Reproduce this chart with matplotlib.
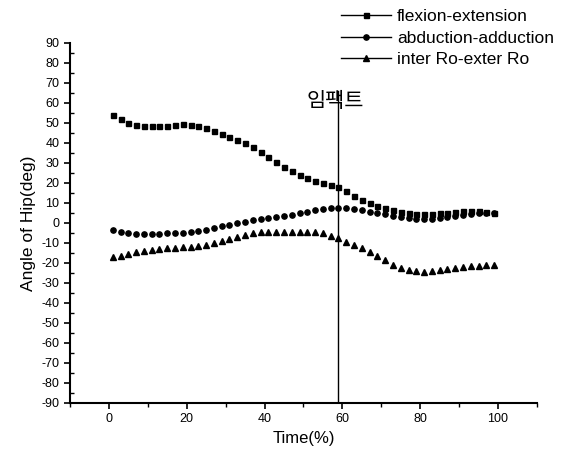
import matplotlib.pyplot as plt
import numpy as np
from matplotlib.lines import Line2D
from matplotlib.ticker import MultipleLocator

plt.rcParams['font.family'] = ['Liberation Sans', 'Noto Sans CJK KR', 'DejaVu Sans']
plt.rcParams['axes.unicode_minus'] = False

# Hip joint angles over the swing cycle (every 2 %)
time_pct = np.arange(1, 100, 2)

flexion_extension = [
    54, 52, 50, 49, 48.5, 48.3, 48.3, 48.5, 49, 49.3,
    49, 48.5, 47.5, 46, 44.5, 43, 41.5, 40, 38, 35.5,
    33, 30.5, 28, 26, 24, 22.5, 21, 20, 19, 18,
    16, 13.5, 11.5, 10, 8.5, 7.5, 6.5, 5.5, 5, 4.5,
    4.5, 4.5, 5, 5, 5.5, 6, 6, 6, 5.5, 5]

abduction_adduction = [
    -3.5, -4.5, -5, -5.5, -5.5, -5.5, -5.5, -5, -5, -5,
    -4.5, -4, -3.5, -2.5, -1.5, -1, 0, 0.5, 1.5, 2,
    2.5, 3, 3.5, 4, 5, 5.5, 6.5, 7, 7.5, 7.5,
    7.5, 7, 6.5, 5.5, 5, 4.5, 3.5, 3, 2.5, 2,
    2, 2, 2.5, 3, 3.5, 4, 4.5, 5, 5, 5]

inter_exter_rot = [
    -17, -16.5, -15.5, -14.5, -14, -13.5, -13, -12.5, -12.5, -12,
    -12, -11.5, -11, -10, -9, -8, -7, -6, -5, -4.5,
    -4.5, -4.5, -4.5, -4.5, -4.5, -4.5, -4.5, -5, -6.5, -7.5,
    -9.5, -11, -12.5, -14.5, -16.5, -18.5, -21, -22.5, -23.5, -24,
    -24.5, -24, -23.5, -23, -22.5, -22, -21.5, -21.5, -21, -21]

impact_time = 59
impact_label = '임팩트'

fig = plt.figure(figsize=(5.64, 4.61), dpi=100)
ax = fig.add_axes([0.124, 0.126, 0.828, 0.781])

ax.plot(time_pct, flexion_extension, ls='none', marker='s', ms=3.6, color='black')
ax.plot(time_pct, abduction_adduction, ls='none', marker='o', ms=3.8, color='black')
ax.plot(time_pct, inter_exter_rot, ls='none', marker='^', ms=4.2, color='black')

# impact marker
ax.plot([impact_time, impact_time], [-90, 66], color='black', lw=1)
ax.text(impact_time - 0.8, 61, impact_label, fontsize=15, ha='center', va='center',
        family=['Noto Sans CJK KR'])

ax.set_xlim(-10, 110)
ax.set_ylim(-90, 90)
ax.xaxis.set_major_locator(MultipleLocator(20))
ax.xaxis.set_minor_locator(MultipleLocator(10))
ax.yaxis.set_major_locator(MultipleLocator(10))
ax.yaxis.set_minor_locator(MultipleLocator(5))
ax.tick_params(axis='both', which='major', direction='out', length=4, width=1.2, labelsize=9)
ax.tick_params(axis='x', which='minor', direction='out', length=3, width=1)
ax.tick_params(axis='y', which='minor', direction='in', length=3, width=1)

for side in ['top', 'right']:
    ax.spines[side].set_visible(False)
for side in ['left', 'bottom']:
    ax.spines[side].set_linewidth(1.5)

ax.set_xlabel('Time(%)', fontsize=12)
ax.set_ylabel('Angle of Hip(deg)', fontsize=12.5)

handles = [
    Line2D([], [], color='black', lw=1, marker='s', ms=3.6),
    Line2D([], [], color='black', lw=1, marker='o', ms=3.8),
    Line2D([], [], color='black', lw=1, marker='^', ms=4.2),
]
labels = ['flexion-extension', 'abduction-adduction', 'inter Ro-exter Ro']
fig.legend(handles, labels, loc='upper right', bbox_to_anchor=(1.01, 1.015),
           frameon=False, fontsize=12.5, handlelength=2.9, handletextpad=0.35,
           labelspacing=0.38)

fig.savefig('out.png', dpi=100)
